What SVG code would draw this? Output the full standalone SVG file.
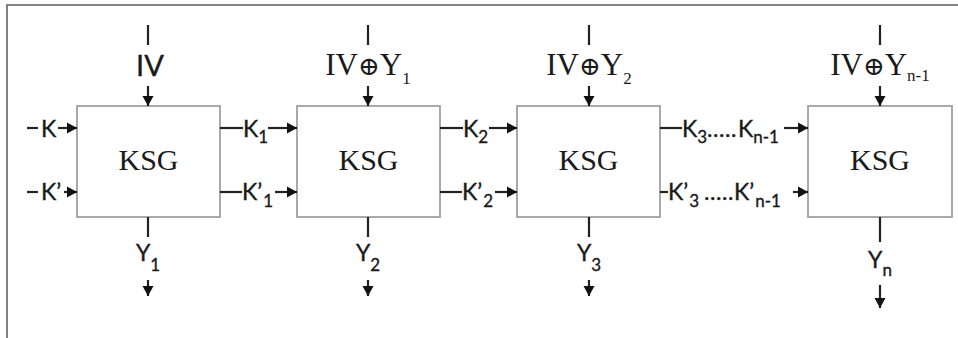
<svg xmlns="http://www.w3.org/2000/svg" width="958" height="338" viewBox="0 0 958 338">
<defs>
<style>
.frame{fill:none;stroke:#5a5a5a;stroke-width:1.5}
.box{fill:#fff;stroke:#a0a0a0;stroke-width:1.8}
.ln{fill:none;stroke:#222;stroke-width:2.2}
.ar{fill:none;stroke:#222;stroke-width:2.2;marker-end:url(#ah)}
.s{font-family:Lato,"Liberation Sans",sans-serif;font-size:23px;fill:#1a1a1a;stroke:#1a1a1a;stroke-width:0.35}
.iv{font-size:29px}
.sub{font-size:17px}
.r{font-family:"Liberation Serif","DejaVu Serif",serif;font-size:31px;fill:#1a1a1a}
.ox{font-family:"DejaVu Serif",serif;font-size:26px}
.rsub{font-size:17px}
.ksg{font-family:"Liberation Serif",serif;font-size:30px;fill:#1a1a1a;text-anchor:middle}
.mid{text-anchor:middle}
</style>
<marker id="ah" markerUnits="userSpaceOnUse" markerWidth="13" markerHeight="13" refX="11" refY="6.5" orient="auto">
<path d="M1,1 L11,6.5 L1,12 Z" fill="#111"/>
</marker>
</defs>
<rect width="958" height="338" fill="#fff"/>
<path class="frame" d="M7,338 V5 H958"/>

<g id="ksg1">
<rect class="box" x="77" y="106" width="143" height="111"/>
<text class="ksg" x="148.5" y="170">KSG</text>
</g>
<g id="ksg2">
<rect class="box" x="297" y="106" width="143" height="111"/>
<text class="ksg" x="368.5" y="170">KSG</text>
</g>
<g id="ksg3">
<rect class="box" x="517" y="106" width="143" height="111"/>
<text class="ksg" x="588.5" y="170">KSG</text>
</g>
<g id="ksg4">
<rect class="box" x="808" y="106" width="144" height="111"/>
<text class="ksg" x="880" y="170">KSG</text>
</g>

<g id="connectors">
<!-- top inputs -->
<line class="ln" x1="148" y1="25" x2="148" y2="45"/>
<line class="ar" x1="148" y1="86" x2="148" y2="106"/>
<line class="ln" x1="368" y1="25" x2="368" y2="45"/>
<line class="ar" x1="368" y1="86" x2="368" y2="106"/>
<line class="ln" x1="589" y1="25" x2="589" y2="45"/>
<line class="ar" x1="589" y1="86" x2="589" y2="106"/>
<line class="ln" x1="880" y1="25" x2="880" y2="45"/>
<line class="ar" x1="880" y1="86" x2="880" y2="106"/>
<!-- bottom outputs -->
<line class="ln" x1="148" y1="217" x2="148" y2="237"/>
<line class="ar" x1="148" y1="280" x2="148" y2="296"/>
<line class="ln" x1="368" y1="217" x2="368" y2="237"/>
<line class="ar" x1="368" y1="280" x2="368" y2="296"/>
<line class="ln" x1="589" y1="217" x2="589" y2="237"/>
<line class="ar" x1="589" y1="280" x2="589" y2="296"/>
<line class="ln" x1="880" y1="217" x2="880" y2="242"/>
<line class="ar" x1="880" y1="285" x2="880" y2="308"/>
<!-- left inputs -->
<line class="ln" x1="27" y1="128" x2="38" y2="128"/>
<line class="ar" x1="58" y1="128" x2="77" y2="128"/>
<line class="ln" x1="27" y1="192" x2="38" y2="192"/>
<line class="ar" x1="64" y1="192" x2="77" y2="192"/>
<!-- 1 to 2 -->
<line class="ln" x1="220" y1="128" x2="243" y2="128"/>
<line class="ar" x1="268" y1="128" x2="297" y2="128"/>
<line class="ln" x1="220" y1="192" x2="242" y2="192"/>
<line class="ar" x1="275" y1="192" x2="297" y2="192"/>
<!-- 2 to 3 -->
<line class="ln" x1="440" y1="128" x2="463" y2="128"/>
<line class="ar" x1="489" y1="128" x2="517" y2="128"/>
<line class="ln" x1="440" y1="192" x2="462" y2="192"/>
<line class="ar" x1="495" y1="192" x2="517" y2="192"/>
<!-- 3 to 4 -->
<line class="ln" x1="660" y1="128" x2="682" y2="128"/>
<line class="ar" x1="784" y1="128" x2="808" y2="128"/>
<line class="ln" x1="660" y1="192" x2="668" y2="192"/>
<line class="ar" x1="793" y1="192" x2="808" y2="192"/>

<!-- labels -->
<text class="s iv mid" x="150" y="76">IV</text>
<text class="r mid" x="368" y="75">IV<tspan class="ox">⊕</tspan>Y<tspan class="rsub" dy="9">1</tspan></text>
<text class="r mid" x="589" y="75">IV<tspan class="ox">⊕</tspan>Y<tspan class="rsub" dy="9">2</tspan></text>
<text class="r mid" x="880" y="75">IV<tspan class="ox">⊕</tspan>Y<tspan class="rsub" dy="6">n-1</tspan></text>

<text class="s" x="41" y="137">K</text>
<text class="s" x="41" y="200">K’</text>

<text class="s" x="243" y="137">K<tspan class="sub" dx="0" dy="6">1</tspan></text>
<text class="s" x="242" y="200">K’<tspan class="sub" dx="1" dy="7">1</tspan></text>
<text class="s" x="463" y="137">K<tspan class="sub" dx="0" dy="6">2</tspan></text>
<text class="s" x="462" y="200">K’<tspan class="sub" dx="1" dy="7">2</tspan></text>

<text class="s" x="682" y="137">K<tspan class="sub" dy="6">3</tspan><tspan x="707" dy="-6" letter-spacing="0.6">.....</tspan><tspan x="738">K</tspan><tspan class="sub" dy="6">n-1</tspan></text>
<text class="s" x="668" y="200">K’<tspan class="sub" dx="1" dy="7">3</tspan><tspan x="704" dy="-7" letter-spacing="0.6">.....</tspan><tspan x="734">K’</tspan><tspan class="sub" dx="1" dy="7">n-1</tspan></text>

<text class="s mid" x="148" y="261">Y<tspan class="sub" dy="10">1</tspan></text>
<text class="s mid" x="368" y="261">Y<tspan class="sub" dy="10">2</tspan></text>
<text class="s mid" x="589" y="261">Y<tspan class="sub" dy="10">3</tspan></text>
<text class="s mid" x="880" y="268">Y<tspan class="sub" dy="8">n</tspan></text>
</g>
</svg>
